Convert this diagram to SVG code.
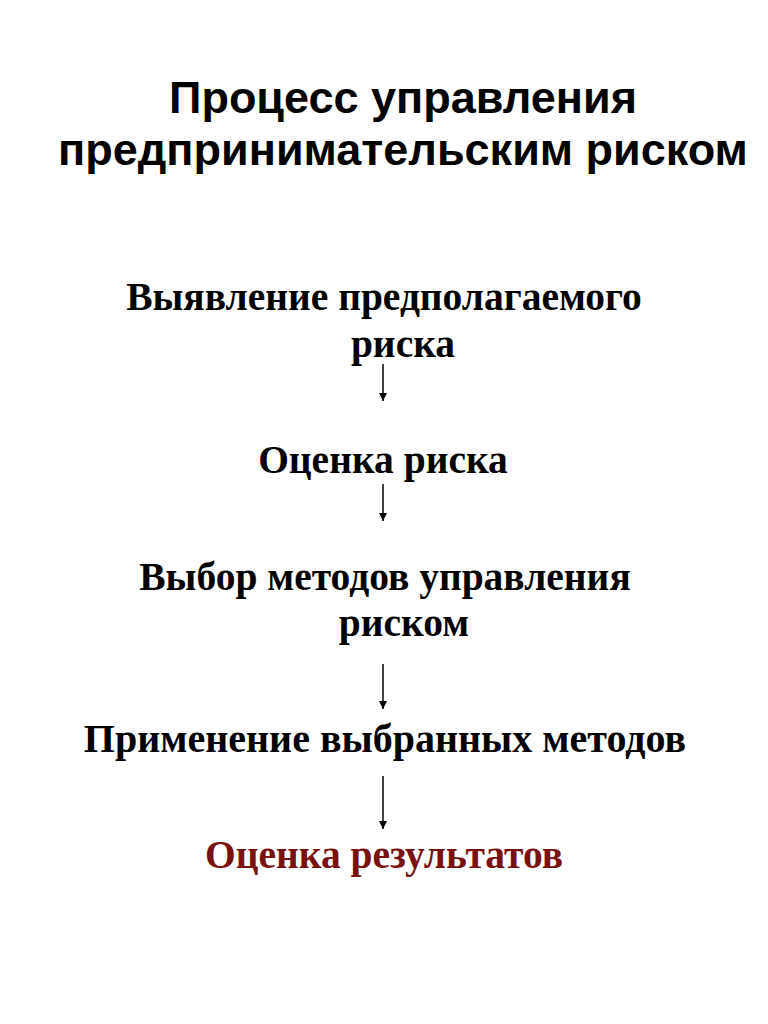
<svg xmlns="http://www.w3.org/2000/svg" width="768" height="1024" viewBox="0 0 768 1024">
<style>
.title{font-family:"Liberation Sans",Arial,sans-serif;font-weight:bold;font-size:45px;fill:#000;text-anchor:middle}
.step{font-family:"Liberation Serif","Times New Roman",serif;font-weight:bold;font-size:39.5px;fill:#000;text-anchor:middle}
.last{fill:#7a1111}
.conn{stroke:#000;stroke-width:1.5;fill:none}
</style>
<defs>
<marker id="ah" viewBox="0 0 10 10" refX="10" refY="5" markerWidth="8" markerHeight="8" markerUnits="userSpaceOnUse" orient="auto">
<path d="M0,0 L10,5 L0,10 z" fill="#000"/>
</marker>
</defs>
<rect width="768" height="1024" fill="#fff"/>
<g id="title">
<text class="title" x="403" y="113">Процесс управления</text>
<text class="title" x="403" y="165">предпринимательским риском</text>
</g>
<g id="step1">
<text class="step" x="384" y="310">Выявление предполагаемого</text>
<text class="step" x="403" y="357">риска</text>
</g>
<g id="step2">
<text class="step" x="383" y="473">Оценка риска</text>
</g>
<g id="step3">
<text class="step" x="385" y="590">Выбор методов управления</text>
<text class="step" x="404" y="636">риском</text>
</g>
<g id="step4">
<text class="step" x="385" y="752" style="font-size:40px">Применение выбранных методов</text>
</g>
<g id="step5">
<text class="step last" x="384" y="868">Оценка результатов</text>
</g>
<g id="connectors">
<line class="conn" x1="383" y1="364" x2="383" y2="401" marker-end="url(#ah)"/>
<line class="conn" x1="383" y1="484" x2="383" y2="521" marker-end="url(#ah)"/>
<line class="conn" x1="383" y1="664" x2="383" y2="709" marker-end="url(#ah)"/>
<line class="conn" x1="383" y1="776" x2="383" y2="829" marker-end="url(#ah)"/>
</g>
</svg>
